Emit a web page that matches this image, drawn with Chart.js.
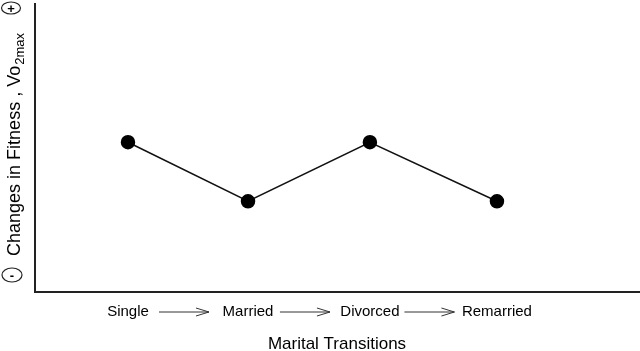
<!DOCTYPE html>
<html>
<head>
<meta charset="utf-8">
<script src="https://cdn.jsdelivr.net/npm/chart.js@4.4.0/dist/chart.umd.min.js"></script>
<style>
  html, body { margin: 0; padding: 0; background: #fff; }
  #wrap { width: 640px; height: 351px; }
</style>
</head>
<body>
<div id="wrap"><canvas id="myChart" width="640" height="351"></canvas></div>
<script>
// marital states along the x axis, and where they sit
const categories = ["Single", "Married", "Divorced", "Remarried"];
const positions = [1, 1.976, 2.967, 4];
// change in fitness (arbitrary units, 0 = "-", 10 = "+")
const fitness = [5.2, 3.15, 5.2, 3.15];

const FONT = "'Liberation Sans', Arial, sans-serif";

// arrows between labels, the +/- marks and the y title with subscript
const extras = {
  id: "extras",
  afterDraw(chart) {
    const ctx = chart.ctx;
    const xs = chart.scales.x;
    const area = chart.chartArea;
    ctx.save();

    // arrows
    ctx.strokeStyle = "#333";
    ctx.lineWidth = 1;
    const ay = area.bottom + 20;
    for (let i = 0; i < positions.length - 1; i++) {
      const mid = xs.getPixelForValue((positions[i] + positions[i + 1]) / 2) - 4;
      const x0 = mid - 25, x1 = mid + 25;
      ctx.beginPath();
      ctx.moveTo(x0, ay);
      ctx.lineTo(x1, ay);
      ctx.moveTo(x1 - 13, ay - 4);
      ctx.lineTo(x1, ay);
      ctx.lineTo(x1 - 13, ay + 4);
      ctx.stroke();
    }

    // circled + and -
    const signs = [["+", 11, 8, 9.5, 6], ["-", 12, 275, 10, 7]];
    signs.forEach(([s, cx, cy, rx, ry]) => {
      ctx.beginPath();
      ctx.ellipse(cx, cy, rx, ry, 0, 0, Math.PI * 2);
      ctx.strokeStyle = "#222";
      ctx.lineWidth = 1.2;
      ctx.stroke();
      ctx.fillStyle = "#000";
      ctx.font = "bold 13px " + FONT;
      ctx.textAlign = "center";
      ctx.textBaseline = "middle";
      ctx.fillText(s, cx, cy + 1);
    });

    // y axis title
    const main = "Changes in Fitness , Vo";
    const sub = "2max";
    ctx.translate(15, 145);
    ctx.rotate(-Math.PI / 2);
    ctx.fillStyle = "#000";
    ctx.textBaseline = "middle";
    ctx.textAlign = "left";
    ctx.font = "18px " + FONT;
    const w1 = ctx.measureText(main).width;
    ctx.font = "13px " + FONT;
    const w2 = ctx.measureText(sub).width;
    const start = -(w1 + w2) / 2;
    ctx.font = "18px " + FONT;
    ctx.fillText(main, start, 0);
    ctx.font = "13px " + FONT;
    ctx.fillText(sub, start + w1 + 1, 5);
    ctx.restore();
  }
};

new Chart(document.getElementById("myChart"), {
  type: "line",
  data: {
    datasets: [{
      data: positions.map((p, i) => ({ x: p, y: fitness[i] })),
      borderColor: "#111",
      borderWidth: 1.5,
      backgroundColor: "#000",
      pointBackgroundColor: "#000",
      pointBorderColor: "#000",
      pointRadius: 6.5,
      tension: 0
    }]
  },
  options: {
    responsive: false,
    animation: false,
    events: [],
    layout: { autoPadding: false, padding: { left: 35, top: 4, right: 1, bottom: 0 } },
    plugins: { legend: { display: false }, tooltip: { enabled: false } },
    scales: {
      x: {
        type: "linear",
        min: 0.244,
        max: 5.155,
        afterBuildTicks: (scale) => { scale.ticks = positions.map(v => ({ value: v })); },
        afterFit: (scale) => {
          scale.height = 59;
          scale.paddingLeft = 0;
          scale.paddingRight = 0;
        },
        ticks: {
          autoSkip: false,
          maxRotation: 0,
          padding: 11,
          color: "#000",
          font: { family: FONT, size: 15 },
          callback: (v) => categories[positions.indexOf(v)]
        },
        grid: { display: false, drawTicks: false },
        border: { display: true, color: "#222", width: 2 },
        title: {
          display: true,
          text: "Marital Transitions",
          color: "#000",
          font: { family: FONT, size: 17 },
          padding: { top: 0, bottom: -4 }
        }
      },
      y: {
        min: 0,
        max: 10,
        ticks: { display: false },
        grid: { display: false, drawTicks: false },
        border: { display: true, color: "#222", width: 2 }
      }
    }
  },
  plugins: [extras]
});
</script>
</body>
</html>
